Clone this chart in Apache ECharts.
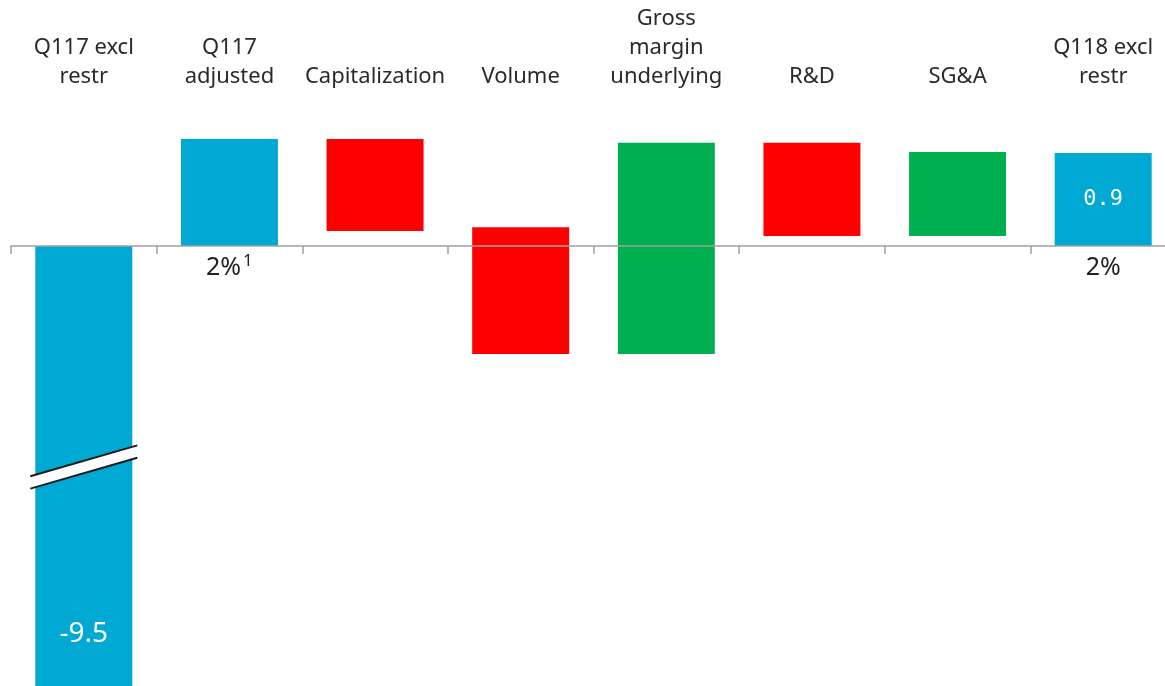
<!DOCTYPE html>
<html>
<head>
<meta charset="utf-8">
<script src="https://cdn.jsdelivr.net/npm/echarts@6/dist/echarts.min.js"></script>
<style>
  html, body { margin: 0; padding: 0; background: #fff; }
  #main { width: 1165px; height: 686px; }
</style>
</head>
<body>
<div id="main"></div>
<script>
  // categories and waterfall ranges (low / high of each bar)
  var categories = ['Q117 excl\nrestr', 'Q117\nadjusted', 'Capitalization', 'Volume', 'Gross\nmargin\nunderlying', 'R&D', 'SG&A', 'Q118 excl\nrestr'];
  var barLow  = [-9.5, 0,     0.145, -1.045, -1.045, 0.097, 0.097, 0];
  var barHigh = [0,    1.036, 1.036,  0.18,   1.0,   1.0,   0.91,  0.9];
  var barColors = ['#00A9D4', '#00A9D4', '#FF0000', '#FF0000', '#00AF50', '#FF0000', '#00AF50', '#00A9D4'];
  var valueLabels = ['-9.5', '', '', '', '', '', '', '0.9'];
  var growthLabels = ['', '2%{sup|1}', '', '', '', '', '', '2%'];
  var breakAt = -2.14; // where the first bar is cut

  var yMin = -4.26, yMax = 1.2;
  var gridTop = 122, chartH = 686;
  // distance of the zero line above the grid bottom
  var zeroOffset = (chartH - gridTop) * (0 - yMin) / (yMax - yMin);

  var chart = echarts.init(document.getElementById('main'));

  var seriesData = [];
  for (var i = 0; i < categories.length; i++) {
    seriesData.push([i, barLow[i], barHigh[i]]);
  }

  function renderItem(params, api) {
    var i = api.value(0);
    var lo = api.coord([i, api.value(1)]);
    var hi = api.coord([i, api.value(2)]);
    var bw = api.size([1, 0])[0] * 0.666;
    var cs = params.coordSys;
    var rect = echarts.graphic.clipRectByRect(
      { x: lo[0] - bw / 2, y: hi[1], width: bw, height: lo[1] - hi[1] },
      { x: cs.x, y: cs.y, width: cs.width, height: cs.height }
    );
    var children = [{ type: 'rect', shape: rect, style: { fill: barColors[i] } }];

    if (i === 0) {
      // broken bar mark
      var c = api.coord([0, breakAt]);
      var hw = 53.5, dy = 15.4, g = 6.2;
      var x0 = c[0] - hw, x1 = c[0] + hw;
      children.push({
        type: 'polygon',
        shape: { points: [[x0, c[1] + dy - g], [x1, c[1] - dy - g], [x1, c[1] - dy + g], [x0, c[1] + dy + g]] },
        style: { fill: '#fff' }
      });
      children.push({ type: 'line', shape: { x1: x0, y1: c[1] + dy - g, x2: x1, y2: c[1] - dy - g }, style: { stroke: '#1a1a1a', lineWidth: 2 } });
      children.push({ type: 'line', shape: { x1: x0, y1: c[1] + dy + g, x2: x1, y2: c[1] - dy + g }, style: { stroke: '#1a1a1a', lineWidth: 2 } });
    }

    if (valueLabels[i]) {
      var clipped = rect.y + rect.height < lo[1] - 1;
      var ty = clipped ? rect.y + rect.height - 52 : rect.y + rect.height / 2;
      children.push({
        type: 'text',
        style: {
          text: valueLabels[i],
          x: lo[0], y: ty,
          align: 'center', verticalAlign: 'middle',
          fill: '#fff',
          font: clipped ? '28px "Noto Sans"' : '22px "DejaVu Sans Mono"'
        }
      });
    }
    return { type: 'group', children: children };
  }

  chart.setOption({
    animation: false,
    grid: { left: 11, right: -11, top: gridTop, bottom: 0, outerBoundsMode: 'none', containLabel: false },
    xAxis: [
      {
        type: 'category',
        data: growthLabels,
        position: 'bottom',
        offset: -zeroOffset,
        z: 10,
        axisLine: { show: true, onZero: false, lineStyle: { color: '#a0a0a0', width: 1.5 } },
        axisTick: { show: true, length: 8, lineStyle: { color: '#a0a0a0', width: 1.5 } },
        axisLabel: {
          interval: 0, margin: 7,
          color: '#222', fontSize: 25, fontFamily: 'Noto Sans', lineHeight: 30,
          rich: { sup: { fontSize: 17, verticalAlign: 'top', color: '#222', fontFamily: 'Noto Sans', padding: [0, 0, 12, 2] } }
        }
      },
      {
        type: 'category',
        data: categories,
        position: 'top',
        axisLine: { show: false },
        axisTick: { show: false },
        axisLabel: {
          interval: 0, margin: 31,
          color: '#2a2a2a', fontSize: 22, fontFamily: 'Noto Sans', lineHeight: 29
        }
      }
    ],
    yAxis: {
      type: 'value',
      min: yMin,
      max: yMax,
      show: false,
      splitLine: { show: false }
    },
    series: [
      {
        type: 'custom',
        renderItem: renderItem,
        encode: { x: 0, y: [1, 2] },
        data: seriesData
      }
    ]
  });
</script>
</body>
</html>
